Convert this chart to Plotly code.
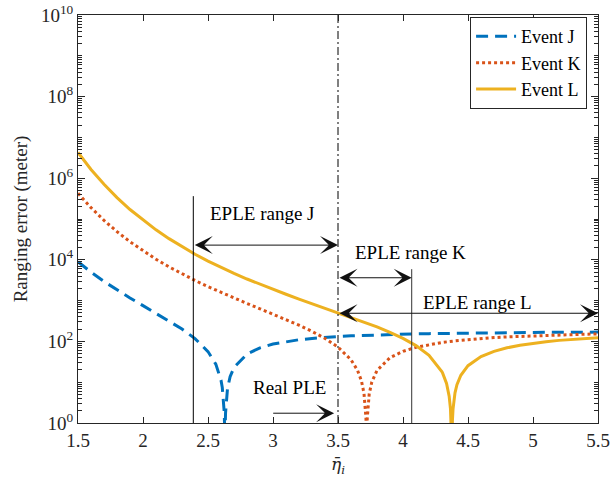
import plotly.graph_objects as go

# Path-loss exponent candidates (eta bar) and ranging error in metres for each event
eta_j = [1.5, 1.6, 1.7, 1.8, 1.9, 2, 2.1, 2.2, 2.3, 2.4, 2.5, 2.56, 2.59, 2.6, 2.61, 2.62,
         2.625, 2.628, 2.63, 2.632, 2.635, 2.64, 2.65, 2.67, 2.7, 2.8, 2.9, 3, 3.1, 3.2,
         3.3, 3.4, 3.5, 3.6, 3.7, 3.8, 3.9, 4, 4.1, 4.2, 4.3, 4.4, 4.5, 4.6, 4.7, 4.8,
         4.9, 5, 5.1, 5.2, 5.3, 5.4, 5.5]
err_j = [8.94e3, 4.98e3, 2.94e3, 1.81e3, 1.16e3, 752, 492, 320, 201, 117, 56.3, 27.7,
         15.2, 11.2, 7.37, 3.64, 1.81, 0.719, 0.05, 0.715, 1.78, 3.54, 6.98, 13.6, 22.9,
         49.1, 69.6, 85.9, 98.9, 110, 118, 126, 132, 137, 141, 145, 148, 151, 153, 155,
         157, 159, 160, 162, 163, 164, 165, 166, 167, 167, 168, 169, 169]

eta_k = [1.5, 1.6, 1.7, 1.8, 1.9, 2, 2.1, 2.2, 2.3, 2.4, 2.5, 2.6, 2.7, 2.8, 2.9, 3, 3.1,
         3.2, 3.3, 3.4, 3.5, 3.6, 3.65, 3.68, 3.7, 3.71, 3.715, 3.718, 3.72, 3.722, 3.725,
         3.73, 3.74, 3.76, 3.79, 3.8, 3.9, 4, 4.1, 4.2, 4.3, 4.4, 4.5, 4.6, 4.7, 4.8, 4.9,
         5, 5.1, 5.2, 5.3, 5.4, 5.5]
err_k = [4.26e5, 1.9e5, 9.26e4, 4.9e4, 2.77e4, 1.65e4, 1.03e4, 6.71e3, 4.51e3, 3.12e3,
         2.2e3, 1.58e3, 1.16e3, 851, 630, 467, 344, 249, 176, 118, 72.5, 35.5, 19.6, 10.9,
         5.34, 2.64, 1.32, 0.525, 0.05, 0.522, 1.3, 2.59, 5.13, 10.1, 17.1, 19.4, 39.9,
         57.1, 71.5, 83.8, 94.2, 103, 111, 118, 124, 129, 133, 137, 141, 144, 147, 150, 152]

eta_l = [1.5, 1.6, 1.7, 1.8, 1.9, 2, 2.1, 2.2, 2.3, 2.4, 2.5, 2.6, 2.7, 2.8, 2.9, 3, 3.1,
         3.2, 3.3, 3.4, 3.5, 3.6, 3.7, 3.8, 3.9, 4, 4.1, 4.2, 4.3, 4.305, 4.335, 4.355,
         4.365, 4.37, 4.373, 4.375, 4.377, 4.38, 4.385, 4.395, 4.4, 4.415, 4.445, 4.5,
         4.6, 4.7, 4.8, 4.9, 5, 5.1, 5.2, 5.3, 5.4, 5.5]
err_l = [4.27e6, 1.64e6, 7.08e5, 3.35e5, 1.71e5, 9.37e4, 5.42e4, 3.3e4, 2.09e4, 1.37e4,
         9.32e3, 6.5e3, 4.64e3, 3.38e3, 2.5e3, 1.88e3, 1.43e3, 1.09e3, 844, 654, 507, 391,
         300, 227, 167, 119, 78.9, 45.7, 17.9, 16.7, 9.28, 4.56, 2.26, 1.13, 0.45, 0.05,
         0.448, 1.12, 2.23, 4.41, 5.5, 8.69, 14.8, 25.4, 42.4, 57, 69.6, 80.5, 90.1, 98.4,
         106, 112, 118, 123]

# Real path-loss exponent and the bounds of each estimated (EPLE) range
real_ple = 3.5
eple_j_low = 2.387
eple_k_high = 4.067
eta_max = 5.5

x_ticks = [1.5, 2, 2.5, 3, 3.5, 4, 4.5, 5, 5.5]
x_tick_text = ["1.5", "2", "2.5", "3", "3.5", "4", "4.5", "5", "5.5"]
y_exps = [0, 2, 4, 6, 8, 10]

FONT = "Liberation Serif"
AXIS_COL = "#262626"

fig = go.Figure()

fig.add_trace(go.Scatter(x=eta_j, y=err_j, mode="lines", name="Event J",
                         line=dict(color="#0072BD", width=3, dash="12px,7px")))
fig.add_trace(go.Scatter(x=eta_k, y=err_k, mode="lines", name="Event K",
                         line=dict(color="#D95319", width=3, dash="dot")))
fig.add_trace(go.Scatter(x=eta_l, y=err_l, mode="lines", name="Event L",
                         line=dict(color="#EDB120", width=3)))

# Range boundary markers
fig.add_trace(go.Scatter(x=[eple_j_low, eple_j_low], y=[1, 10 ** 5.56], mode="lines",
                         line=dict(color="black", width=1), showlegend=False,
                         hoverinfo="skip"))
fig.add_trace(go.Scatter(x=[eple_k_high, eple_k_high], y=[1, 10 ** 3.77], mode="lines",
                         line=dict(color="#333333", width=1), showlegend=False,
                         hoverinfo="skip"))
fig.add_trace(go.Scatter(x=[real_ple, real_ple], y=[1, 1e10], mode="lines",
                         line=dict(color="black", width=1, dash="8px,3px,2px,3px"),
                         showlegend=False, hoverinfo="skip"))

# Invisible anchor so the overlaid minor-tick axis gets drawn
fig.add_trace(go.Scatter(x=[1.5], y=[1], yaxis="y2", mode="markers",
                         marker=dict(opacity=0), showlegend=False, hoverinfo="skip"))


def double_arrow(x0, x1, ylog):
    return dict(x=x1, y=ylog, ax=x0, ay=ylog, xref="x", yref="y", axref="x", ayref="y",
                showarrow=True, arrowhead=3, startarrowhead=3, arrowside="end+start",
                arrowsize=3, startarrowsize=3, arrowwidth=1, arrowcolor="#111111",
                text="")


def label(x, ylog, text):
    return dict(x=x, y=ylog, xref="x", yref="y", text=text, showarrow=False,
                font=dict(family=FONT, size=19, color="black"))


annotations = [
    double_arrow(eple_j_low, real_ple, 4.36),
    double_arrow(real_ple, eple_k_high, 3.56),
    double_arrow(real_ple, eta_max, 2.69),
    dict(x=3.47, y=0.24, ax=2.99, ay=0.24, xref="x", yref="y", axref="x", ayref="y",
         showarrow=True, arrowhead=3, arrowsize=3, arrowwidth=1, arrowcolor="#111111",
         text=""),
    label(2.915, 5.14, "EPLE range J"),
    label(4.054, 4.19, "EPLE range K"),
    label(4.57, 2.96, "EPLE range L"),
    label(3.13, 0.88, "Real PLE"),
]

# Minor tick positions for the log axis: every 1..9 multiple within each decade
minor_vals = [k * 10 ** e for e in range(10) for k in range(1, 10)] + [1e10]

fig.update_layout(
    width=611, height=481,
    margin=dict(l=78, r=13, t=15, b=58),
    paper_bgcolor="white", plot_bgcolor="white",
    font=dict(family=FONT, size=19, color=AXIS_COL),
    showlegend=True,
    legend=dict(x=0.979, y=0.995, xanchor="right", yanchor="top",
                bgcolor="white", bordercolor=AXIS_COL, borderwidth=1,
                font=dict(family=FONT, size=18, color="black"),
                tracegroupgap=0, itemwidth=40),
    annotations=annotations,
    xaxis=dict(
        range=[1.5, 5.5], tickmode="array", tickvals=x_ticks, ticktext=x_tick_text,
        ticks="inside", ticklen=6, tickcolor=AXIS_COL, showline=True, linecolor=AXIS_COL,
        linewidth=1, mirror="ticks", showgrid=False, zeroline=False,
        tickfont=dict(family=FONT, size=19, color=AXIS_COL),
        title=dict(text="<i>η̄<sub>i</sub></i>",
                   font=dict(family="DejaVu Serif", size=17, color=AXIS_COL),
                   standoff=8),
        automargin=False,
    ),
    yaxis=dict(
        type="log", range=[0, 10], tickmode="array",
        tickvals=[10 ** e for e in y_exps],
        ticktext=["10<sup>%d</sup>" % e for e in y_exps],
        ticks="inside", ticklen=7, tickcolor=AXIS_COL, showline=True, linecolor=AXIS_COL,
        linewidth=1, mirror="ticks", showgrid=False, zeroline=False,
        tickfont=dict(family=FONT, size=19, color=AXIS_COL),
        title=dict(text="Ranging error (meter)",
                   font=dict(family=FONT, size=19, color=AXIS_COL), standoff=8),
        automargin=False,
    ),
    yaxis2=dict(
        overlaying="y", side="left", type="log", range=[0, 10],
        tickmode="array", tickvals=minor_vals, showticklabels=False,
        ticks="inside", ticklen=4, tickcolor=AXIS_COL, showline=True,
        linecolor=AXIS_COL, linewidth=1, mirror="ticks", showgrid=False,
        zeroline=False,
    ),
)

fig.write_html("out.html")
